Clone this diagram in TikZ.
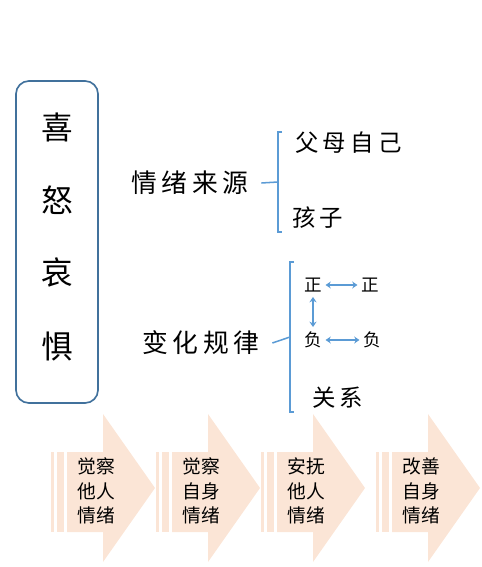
\documentclass[tikz,border=0pt]{standalone}
\usepackage{fontspec}
\setmainfont{Noto Sans CJK SC}
\newfontfamily\hand[LetterSpace=18]{Noto Sans CJK SC}
\usetikzlibrary{arrows.meta}
\definecolor{boxblue}{HTML}{41719C}
\definecolor{linkblue}{HTML}{5B9BD5}
\definecolor{peach}{HTML}{FBE5D6}
\tikzset{
  % big characters in the frame
  emotion/.style={font=\fontsize{27}{29}\selectfont, inner sep=0pt},
  topic/.style={font=\hand\fontsize{22}{24}\selectfont, inner sep=0pt, anchor=west},
  item/.style={font=\hand\fontsize{20}{22}\selectfont, inner sep=0pt, anchor=west},
  sign/.style={font=\fontsize{15}{17}\selectfont, inner sep=1pt},
  steptext/.style={font=\fontsize{16}{21}\selectfont, align=left, inner sep=0pt},
  % brackets and links
  bracket/.style={draw=linkblue, line width=1.3pt},
  swap/.style={{Stealth[length=4.5pt,width=6pt]}-{Stealth[length=4.5pt,width=6pt]},
    draw=linkblue, line width=1pt, shorten >=2pt, shorten <=2pt},
}
\newcommand{\stepshape}[3]{%
  \begin{scope}[shift={(#2,0)}]
    \fill[peach] (0,452) rectangle (3,532);              % thin stripe
    \fill[peach] (6,452) rectangle (13,532);             % wide stripe
    \fill[peach] (16,452) -- (52,452) -- (52,414) -- (104,488)
      -- (52,562) -- (52,532) -- (16,532) -- cycle;      % arrow
    \node[steptext] (#1) at (45,491) {#3};
  \end{scope}
}

\begin{document}
\begin{tikzpicture}[x=0.03cm, y=-0.03cm]
  \useasboundingbox (0,0) rectangle (481,567);

  %% -- Steps (bottom) --
  \stepshape{seeother}{51}{觉察\\他人\\情绪}
  \stepshape{seeself}{156}{觉察\\自身\\情绪}
  \stepshape{calmother}{261}{安抚\\他人\\情绪}
  \stepshape{mendself}{376}{改善\\自身\\情绪}

  %% -- Frame with the four emotions --
  \node[draw=boxblue, line width=1.4pt, rounded corners=11pt,
        minimum width=2.46cm, minimum height=9.66cm] (frame) at (57,242) {};
  \node[emotion] (xi) at (57,127) {喜};
  \node[emotion] (nu) at (57,200) {怒};
  \node[emotion] (ai) at (57,273) {哀};
  \node[emotion] (ju) at (57,347) {惧};

  %% -- Topics --
  \node[topic] (source) at (131,183) {情绪来源};
  \node[topic] (change) at (142,343) {变化规律};

  %% -- Items --
  \node[item] (parents) at (295,143) {父母自己};
  \node[item] (child)   at (292,218) {孩子};
  \node[item] (bond)    at (312,398) {关系};

  \node[sign] (pos1) at (313,285) {正};
  \node[sign] (pos2) at (370,285) {正};
  \node[sign] (neg1) at (313,340) {负};
  \node[sign] (neg2) at (372,340) {负};

  %% -- Brackets --
  \coordinate (srcjoin) at (278,182);
  \coordinate (chgjoin) at (290,337);
  \draw[bracket] (282,132) -- (278,132) -- (278,232) -- (282,232);
  \draw[bracket] ([xshift=11pt]source.east) -- (srcjoin);
  \draw[bracket] (294,262) -- (290,262) -- (290,412) -- (294,412);
  \draw[bracket] ([xshift=11pt]change.east) -- (chgjoin);

  %% -- Sign links --
  \draw[swap] (pos1) -- (pos2);
  \draw[swap] (neg1) -- (neg2);
  \draw[swap, shorten >=3pt, shorten <=3pt] (pos1) -- (neg1);

\end{tikzpicture}
\end{document}
